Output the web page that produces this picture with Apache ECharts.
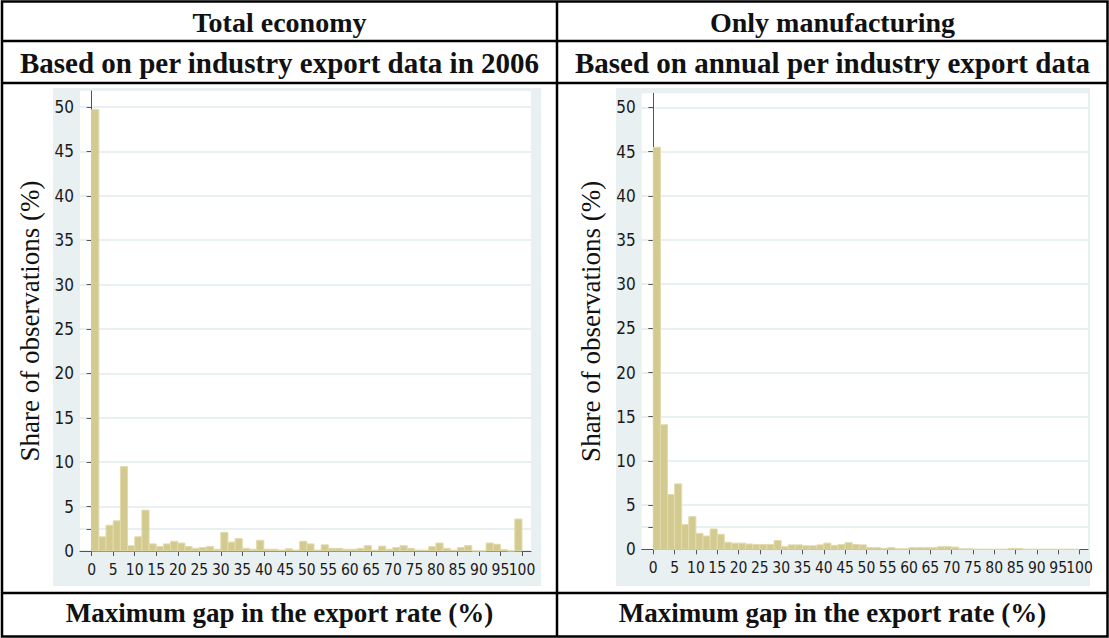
<!DOCTYPE html>
<html>
<head>
<meta charset="utf-8">
<script src="https://cdn.jsdelivr.net/npm/echarts@6/dist/echarts.min.js"></script>
<style>
  html, body { margin: 0; padding: 0; background: #ffffff; }
  #chart { width: 1109px; height: 638px; }
</style>
</head>
<body>
<div id="chart"></div>
<script>
// Histogram of the maximum gap in the export rate: 60 bins of equal width over 0-100.
const binWidth = 100 / 60;

// Share of observations (%) per bin, total economy (2006 per-industry export data)
const totalEconomy = [
  49.7, 1.6, 2.9, 3.4, 9.5, 0.6, 1.6, 4.6, 0.8, 0.5,
  0.8, 1.1, 0.9, 0.5, 0.3, 0.4, 0.5, 0.2, 2.1, 1.0,
  1.4, 0.3, 0.2, 1.2, 0.2, 0.2, 0.1, 0.25, 0.1, 1.1,
  0.8, 0.1, 0.7, 0.3, 0.3, 0.2, 0.2, 0.3, 0.6, 0.1,
  0.55, 0.2, 0.4, 0.6, 0.3, 0.1, 0.1, 0.5, 0.9, 0.3,
  0.1, 0.4, 0.6, 0.0, 0.0, 0.9, 0.75, 0.15, 0.0, 3.6
];

// Share of observations (%) per bin, manufacturing only (annual per-industry export data)
const manufacturing = [
  45.5, 14.1, 6.2, 7.4, 2.8, 3.7, 1.8, 1.5, 2.3, 1.7,
  0.8, 0.7, 0.7, 0.6, 0.55, 0.55, 0.55, 1.0, 0.3, 0.5,
  0.5, 0.4, 0.4, 0.5, 0.7, 0.45, 0.55, 0.75, 0.55, 0.5,
  0.2, 0.2, 0.1, 0.2, 0.05, 0.05, 0.2, 0.2, 0.2, 0.2,
  0.3, 0.3, 0.25, 0.05, 0.05, 0.0, 0.0, 0.0, 0.0, 0.0,
  0.1, 0.1, 0.0, 0.0, 0.0, 0.0, 0.0, 0.0, 0.0, 0.0
];

const xTickValues = [0, 5, 10, 15, 20, 25, 30, 35, 40, 45, 50, 55, 60, 65, 70, 75, 80, 85, 90, 95, 100];
const yLabelValues = [0, 5, 10, 15, 20, 25, 30, 35, 40, 45, 50];
const yTickValues = [0, 2.5, 5, 10, 15, 20, 25, 30, 35, 40, 45, 50];

const columnTitles = ['Total economy', 'Only manufacturing'];
const columnSubtitles = ['Based on per industry export data in 2006', 'Based on annual per industry export data'];
const xAxisTitle = 'Maximum gap in the export rate (%)';
const yAxisTitle = 'Share of observations (%)';

const regionColor = '#e9f0f2';
const barFill = '#d3ca8f';
const barEdge = '#e2dbad';
const tickFont = '"Liberation Sans Narrow", "DejaVu Sans Condensed", "Arial Narrow", sans-serif';
const serif = '"Liberation Serif", "Times New Roman", serif';

const chart = echarts.init(document.getElementById('chart'), null, { renderer: 'svg' });

function toBins(values) {
  return values.map((v, i) => [i, v]);
}

function renderBar(params, api) {
  const i = api.value(0);
  const v = api.value(1);
  const top = api.coord([i * binWidth, v]);
  const base = api.coord([(i + 1) * binWidth, 0]);
  return {
    type: 'rect',
    shape: { x: top[0], y: top[1], width: base[0] - top[0], height: base[1] - top[1] },
    style: { fill: barFill, stroke: barEdge, lineWidth: 1 }
  };
}

const xLabelStyle = { color: '#1a1a1a', fontFamily: tickFont, fontSize: 15.5, margin: 11 };

// Main x axis: line, all ticks and every label except the last one
function makeX(gridIndex, min, max) {
  return {
    type: 'value', gridIndex, min, max, position: 'bottom', offset: 0,
    axisLine: { show: true, onZero: false, lineStyle: { color: '#555', width: 1 } },
    axisTick: { show: true, length: 5, customValues: xTickValues, lineStyle: { color: '#555' } },
    axisLabel: Object.assign({ customValues: xTickValues.slice(0, -1) }, xLabelStyle),
    splitLine: { show: false }
  };
}

// Companion x axis on the same scale carrying only the final label, so the
// tightly packed "95" and "100" both stay visible
function makeXEnd(gridIndex, min, max) {
  return {
    type: 'value', gridIndex, min, max, position: 'bottom', offset: 0,
    axisLine: { show: false, onZero: false },
    axisTick: { show: false },
    axisLabel: Object.assign({ customValues: xTickValues.slice(-1) }, xLabelStyle),
    splitLine: { show: false }
  };
}

function makeY(gridIndex, max) {
  return {
    type: 'value', gridIndex, min: 0, max,
    name: yAxisTitle, nameLocation: 'middle', nameRotate: 90, nameGap: 37,
    nameTextStyle: { fontFamily: serif, fontSize: 27, color: '#111' },
    axisLine: { show: true, lineStyle: { color: '#555', width: 1 } },
    axisTick: { show: true, length: 5, customValues: yTickValues, lineStyle: { color: '#555' } },
    axisLabel: { customValues: yLabelValues, color: '#1a1a1a', fontFamily: tickFont, fontSize: 17, margin: 6 },
    splitLine: { show: true, lineStyle: { color: regionColor, width: 2 } }
  };
}

// Table frame: outer box, header rows, footer row and column divider
const frame = { stroke: '#000', lineWidth: 2.5 };
const graphics = [
  { type: 'rect', shape: { x: 53, y: 88, width: 488, height: 498 }, style: { fill: regionColor }, z: -10 },
  { type: 'rect', shape: { x: 616, y: 88, width: 474, height: 498 }, style: { fill: regionColor }, z: -10 },
  { type: 'rect', shape: { x: 2, y: 1.5, width: 1105.5, height: 635 }, style: Object.assign({ fill: 'none' }, frame), z: 10 },
  { type: 'line', shape: { x1: 2, y1: 41, x2: 1107.5, y2: 41 }, style: frame, z: 10 },
  { type: 'line', shape: { x1: 2, y1: 83, x2: 1107.5, y2: 83 }, style: frame, z: 10 },
  { type: 'line', shape: { x1: 2, y1: 593, x2: 1107.5, y2: 593 }, style: frame, z: 10 },
  { type: 'line', shape: { x1: 557, y1: 1.5, x2: 557, y2: 636.5 }, style: frame, z: 10 }
];
const centers = [279.5, 832.5];
centers.forEach((cx, k) => {
  graphics.push(
    { type: 'text', x: cx, y: 22, style: { text: columnTitles[k], textAlign: 'center', textVerticalAlign: 'middle', font: 'bold 28px ' + serif, fill: '#111' } },
    { type: 'text', x: cx, y: 63, style: { text: columnSubtitles[k], textAlign: 'center', textVerticalAlign: 'middle', font: 'bold 29px ' + serif, fill: '#111' } },
    { type: 'text', x: cx, y: 613, style: { text: xAxisTitle, textAlign: 'center', textVerticalAlign: 'middle', font: 'bold 27px ' + serif, fill: '#111' } }
  );
});

chart.setOption({
  animation: false,
  backgroundColor: '#ffffff',
  grid: [
    { left: 80, top: 91, width: 451, height: 460, show: true, backgroundColor: '#ffffff', borderWidth: 0 },
    { left: 641.7, top: 93.3, width: 446.3, height: 456, show: true, backgroundColor: '#ffffff', borderWidth: 0 }
  ],
  xAxis: [
    makeX(0, -2.72, 102.1), makeX(1, -2.72, 102.0),
    makeXEnd(0, -2.72, 102.1), makeXEnd(1, -2.72, 102.0)
  ],
  yAxis: [makeY(0, 51.8), makeY(1, 51.6)],
  series: [
    { type: 'custom', xAxisIndex: 0, yAxisIndex: 0, renderItem: renderBar, data: toBins(totalEconomy), encode: { x: 0, y: 1 } },
    { type: 'custom', xAxisIndex: 1, yAxisIndex: 1, renderItem: renderBar, data: toBins(manufacturing), encode: { x: 0, y: 1 } }
  ],
  graphic: graphics
});
</script>
</body>
</html>
